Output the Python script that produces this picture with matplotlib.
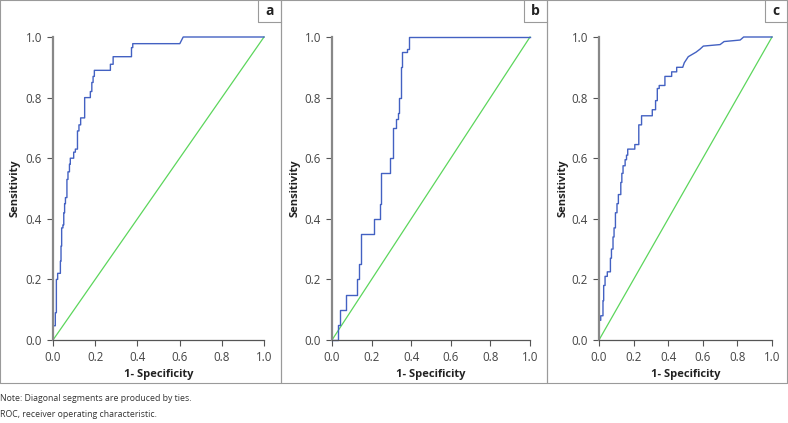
import matplotlib
matplotlib.use("Agg")
import matplotlib.pyplot as plt
from matplotlib.lines import Line2D

plt.rcParams['font.family'] = ['Open Sans', 'DejaVu Sans']

# ROC curve vertices (1 - specificity, sensitivity)
fpr_a = [0, 0, 0.011, 0.011, 0.016, 0.016, 0.022, 0.022, 0.035, 0.035, 0.038, 0.038,
         0.041, 0.041, 0.047, 0.047, 0.051, 0.051, 0.055, 0.055, 0.059, 0.059, 0.066, 0.066,
         0.071, 0.071, 0.078, 0.078, 0.082, 0.082, 0.098, 0.098, 0.106, 0.106, 0.116, 0.116,
         0.123, 0.123, 0.131, 0.131, 0.150, 0.150, 0.177, 0.177, 0.184, 0.184, 0.190, 0.190,
         0.196, 0.196, 0.272, 0.272, 0.285, 0.285, 0.372, 0.372, 0.378, 0.378, 0.601, 0.617, 1.0]
tpr_a = [0, 0.047, 0.047, 0.09, 0.09, 0.20, 0.20, 0.22, 0.22, 0.26, 0.26, 0.31,
         0.31, 0.37, 0.37, 0.38, 0.38, 0.42, 0.42, 0.45, 0.45, 0.47, 0.47, 0.53,
         0.53, 0.555, 0.555, 0.58, 0.58, 0.60, 0.60, 0.62, 0.62, 0.63, 0.63, 0.69,
         0.69, 0.71, 0.71, 0.733, 0.733, 0.80, 0.80, 0.82, 0.82, 0.85, 0.85, 0.87,
         0.87, 0.89, 0.89, 0.91, 0.91, 0.935, 0.935, 0.965, 0.965, 0.978, 0.978, 1.0, 1.0]

fpr_b = [0, 0.030, 0.030, 0.042, 0.042, 0.072, 0.072, 0.126, 0.126, 0.138, 0.138, 0.148,
         0.148, 0.210, 0.210, 0.240, 0.240, 0.247, 0.247, 0.294, 0.294, 0.306, 0.306, 0.324,
         0.324, 0.331, 0.331, 0.339, 0.339, 0.350, 0.350, 0.356, 0.356, 0.378, 0.378, 0.387,
         0.387, 1.0]
tpr_b = [0, 0, 0.05, 0.05, 0.10, 0.10, 0.15, 0.15, 0.20, 0.20, 0.25, 0.25,
         0.35, 0.35, 0.40, 0.40, 0.45, 0.45, 0.55, 0.55, 0.60, 0.60, 0.70, 0.70,
         0.73, 0.73, 0.75, 0.75, 0.80, 0.80, 0.90, 0.90, 0.95, 0.95, 0.96, 0.96,
         1.0, 1.0]

fpr_c = [0, 0, 0.010, 0.010, 0.023, 0.023, 0.027, 0.027, 0.035, 0.035, 0.048, 0.048,
         0.066, 0.066, 0.072, 0.072, 0.081, 0.081, 0.087, 0.087, 0.095, 0.095, 0.104, 0.104,
         0.112, 0.112, 0.126, 0.126, 0.132, 0.132, 0.139, 0.139, 0.151, 0.151, 0.159, 0.159,
         0.166, 0.166, 0.207, 0.207, 0.230, 0.230, 0.246, 0.246, 0.308, 0.308, 0.327, 0.327,
         0.337, 0.337, 0.348, 0.348, 0.381, 0.381, 0.420, 0.420, 0.449, 0.449, 0.484, 0.493,
         0.516, 0.516, 0.561, 0.584, 0.603, 0.603, 0.700, 0.723, 0.723, 0.816, 0.836, 1.0]
tpr_c = [0, 0.065, 0.065, 0.08, 0.08, 0.13, 0.13, 0.18, 0.18, 0.21, 0.21, 0.225,
         0.225, 0.27, 0.27, 0.30, 0.30, 0.34, 0.34, 0.37, 0.37, 0.42, 0.42, 0.45,
         0.45, 0.48, 0.48, 0.52, 0.52, 0.55, 0.55, 0.575, 0.575, 0.595, 0.595, 0.61,
         0.61, 0.63, 0.63, 0.645, 0.645, 0.71, 0.71, 0.74, 0.74, 0.76, 0.76, 0.79,
         0.79, 0.83, 0.83, 0.84, 0.84, 0.87, 0.87, 0.885, 0.885, 0.90, 0.90, 0.915,
         0.935, 0.935, 0.95, 0.96, 0.97, 0.97, 0.975, 0.985, 0.985, 0.99, 1.0, 1.0]

panels = [("a", fpr_a, tpr_a), ("b", fpr_b, tpr_b), ("c", fpr_c, tpr_c)]
ticks = [0.0, 0.2, 0.4, 0.6, 0.8, 1.0]

W, H = 788, 423
fig = plt.figure(figsize=(W / 100, H / 100), dpi=100)

def fx(px):
    return px / W

def fy(py):
    return 1 - py / H

# panel layout in pixels: (box left, box right, axes left, axes right, ylabel x, label box left)
layout = [(0, 281, 53, 264, 15, 258),
          (281, 547, 332, 530, 295, 524),
          (547, 787, 599, 772, 563, 765)]
ax_top, ax_bot, box_bot = 37, 340, 383
grey = '#9a9a9a'

for (name, fpr, tpr), (bl, br, al, ar, ylx, lbl) in zip(panels, layout):
    ax = fig.add_axes([fx(al), fy(ax_bot), fx(ar) - fx(al), fy(ax_top) - fy(ax_bot)])
    ax.plot([0, 1], [0, 1], color='#5cd65c', lw=0.9)
    ax.plot(fpr, tpr, color='#4361c2', lw=1.0)
    ax.set_xlim(0, 1)
    ax.set_ylim(0, 1)
    ax.set_xticks(ticks)
    ax.set_yticks(ticks)
    ax.set_xticklabels([f"{t:.1f}" for t in ticks])
    ax.set_yticklabels([f"{t:.1f}" for t in ticks])
    for s in ['top', 'right']:
        ax.spines[s].set_visible(False)
    ax.spines['left'].set_color('#888888')
    ax.spines['left'].set_linewidth(1.6)
    ax.spines['bottom'].set_color('#555555')
    ax.spines['bottom'].set_linewidth(0.9)
    ax.tick_params(direction='out', length=4, width=0.8, colors='#555555',
                   labelsize=8.3, labelcolor='#444444', pad=4)
    ax.patch.set_alpha(0)
    for l in ax.lines:
        l.set_clip_on(False)

    fig.text(fx(ylx), fy((ax_top + ax_bot) / 2), "Sensitivity", rotation=90,
             ha='center', va='center', fontsize=8, fontweight='bold', color='#222222')
    fig.text(fx((al + ar) / 2), fy(375), "1- Specificity", ha='center', va='center',
             fontsize=8, fontweight='bold', color='#222222')

    # panel border and label box
    fig.add_artist(Line2D([fx(bl), fx(br), fx(br), fx(bl), fx(bl)],
                          [fy(0), fy(0), fy(box_bot), fy(box_bot), fy(0)],
                          color=grey, lw=0.8))
    fig.add_artist(Line2D([fx(lbl), fx(lbl), fx(br)], [fy(0), fy(22), fy(22)],
                          color=grey, lw=0.8))
    fig.text(fx((lbl + br) / 2), fy(11), name, ha='center', va='center',
             fontsize=10, fontweight='bold', color='#222222')

fig.text(0.0, fy(398), "Note: Diagonal segments are produced by ties.",
         ha='left', va='center', fontsize=6.3, color='#333333')
fig.text(0.0, fy(414), "ROC, receiver operating characteristic.",
         ha='left', va='center', fontsize=6.3, color='#333333')

fig.savefig("out.png", dpi=100)
